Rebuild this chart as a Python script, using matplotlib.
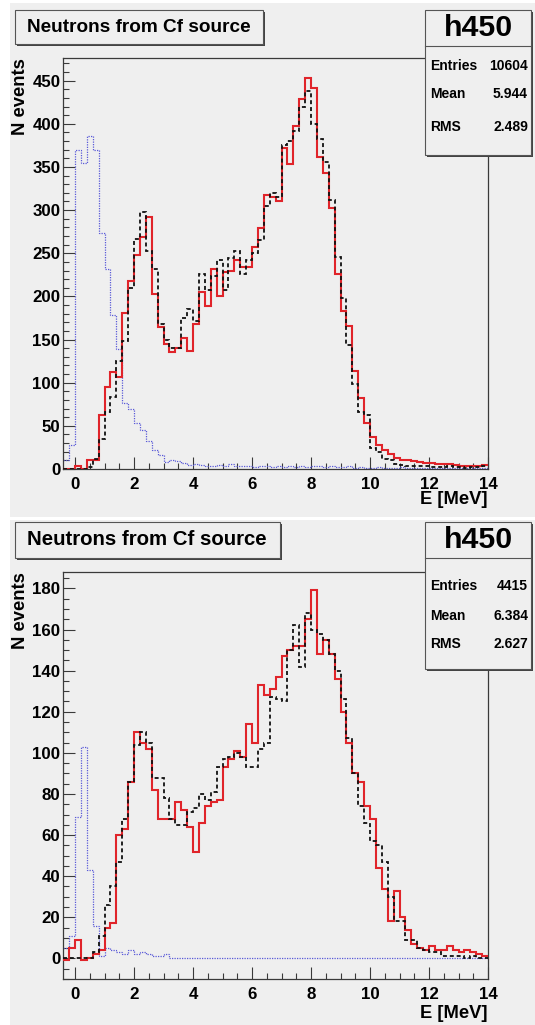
import numpy as np
import matplotlib
matplotlib.use('Agg')
import matplotlib.pyplot as plt
from matplotlib.patches import Rectangle
from matplotlib.ticker import MultipleLocator

plt.rcParams['font.family'] = ['Liberation Sans', 'DejaVu Sans']
plt.rcParams['font.weight'] = 'bold'

# energy binning, 0.2 MeV bins from -0.4 to 14 MeV
e_lo, e_hi, e_step = -0.4, 14.0, 0.2
edges = np.round(np.arange(e_lo, e_hi + e_step / 2, e_step), 2)

# --- first run (10604 entries) ---
data_top = [0, 0, 4, 0, 10, 10, 62, 95, 112, 107, 181, 218, 248, 269, 292, 203,
            165, 145, 135, 140, 152, 137, 168, 205, 189, 232, 201, 228, 230, 242,
            234, 234, 257, 279, 318, 315, 310, 372, 353, 397, 429, 453, 441, 362,
            343, 302, 226, 183, 166, 113, 82, 53, 37, 28, 22, 17, 13, 10, 10, 9,
            8, 7, 7, 6, 6, 6, 5, 4, 3, 4, 3, 5]
sim_top = [0, 0, 0, 0, 2, 12, 35, 66, 84, 125, 148, 210, 267, 298, 253, 232,
           168, 150, 140, 140, 175, 185, 172, 226, 207, 224, 242, 207, 244, 253,
           226, 242, 250, 265, 305, 320, 315, 375, 380, 392, 420, 438, 400, 382,
           356, 312, 246, 198, 144, 98, 66, 63, 24, 20, 12, 10, 6, 5, 4, 3,
           3, 3, 2, 2, 2, 3, 2, 2, 1, 2, 2, 3]
gamma_top = [10, 28, 370, 355, 386, 370, 273, 232, 179, 139, 76, 69, 53, 45, 33, 22,
             16, 8, 10, 9, 7, 5, 6, 5, 4, 4, 5, 4, 6, 3,
             4, 3, 2, 3, 3, 2, 3, 2, 4, 2, 3, 2, 4, 3,
             2, 3, 2, 2, 3, 1, 2, 1, 1, 2, 1, 1, 1, 2, 1, 1,
             1, 1, 1, 1, 1, 1, 1, 1, 1, 1, 1, 1]
stats_top = ['10604', '5.944', '2.489']

# --- second run (4415 entries) ---
data_bot = [-1, 5, 9, -1, 0, 2, 4, 15, 17, 60, 63, 86, 110, 105, 102, 82,
            68, 68, 68, 76, 72, 64, 52, 66, 74, 76, 77, 93, 97, 101,
            98, 114, 105, 133, 128, 131, 137, 147, 150, 152, 152, 165, 179, 148,
            155, 148, 136, 120, 105, 90, 86, 74, 68, 44, 34, 18, 33, 20, 14, 7,
            5, 4, 6, 4, 4, 6, 4, 3, 4, 3, 2, 1]
sim_bot = [0, 0, 0, 0, 0, 3, 11, 26, 35, 47, 68, 86, 104, 110, 105, 88,
           88, 78, 68, 65, 65, 71, 73, 80, 77, 81, 93, 97, 98, 100,
           98, 93, 93, 102, 105, 127, 126, 125, 150, 162, 142, 168, 160, 158,
           155, 148, 140, 126, 107, 90, 74, 66, 57, 55, 47, 30, 18, 18, 9, 9,
           5, 4, 3, 3, 1, 1, 1, 1, 0, 1, 0, 0]
gamma_bot = [5, 11, 69, 103, 43, 16, 1, 5, 4, 3, 2, 4, 2, 3, 2, 1,
             1, 2, 0, 0, 0, 0, 0, 0, 0, 0, 0, 0, 0, 0,
             0, 0, 0, 0, 0, 0, 0, 0, 0, 0, 0, 0, 0, 0,
             0, 0, 0, 0, 0, 0, 0, 0, 0, 0, 0, 0, 0, 0, 0, 0,
             0, 0, 0, 0, 0, 0, 0, 0, 0, 0, 0, 0]
stats_bot = ['4415', '6.384', '2.627']

title = 'Neutrons from Cf source'
hist_name = 'h450'
stat_names = ['Entries', 'Mean', 'RMS']

W, H = 535, 1025
pad_grey = '#efefef'
frame_col = '#3a3a3a'

fig = plt.figure(figsize=(W / 100, H / 100), dpi=100)
fig.patch.set_facecolor('white')


def fx(px):
    return px / W


def fy(py):
    return 1 - py / H


def rect(x0, y0, x1, y1, **kw):
    r = Rectangle((fx(x0), fy(y1)), (x1 - x0) / W, (y1 - y0) / H,
                  transform=fig.transFigure, **kw)
    fig.patches.append(r)
    return r


def shadow_box(x0, y0, x1, y1):
    rect(x0 + 2, y0 + 2, x1 + 2, y1 + 2, facecolor='#444444', edgecolor='none', zorder=5)
    rect(x0, y0, x1, y1, facecolor=pad_grey, edgecolor='#555555', lw=0.8, zorder=6)


def panel(ytop, ybot, data, sim, gamma, stats, tbox, tsize, sbox, rows, divider,
          ymajor, yminor, xlab_y, canvas):
    # grey canvas behind the pad
    rect(*canvas, facecolor=pad_grey, edgecolor='none', zorder=-2)

    ax = fig.add_axes([fx(63.3), fy(ybot), (488 - 63.3) / W, (ybot - ytop) / H])
    ax.set_facecolor(pad_grey)
    ax.stairs(data, edges, baseline=None, color='#e0242a', lw=1.5, zorder=3)
    ax.stairs(sim, edges, baseline=None, color='#111111', lw=1.3,
              linestyle=(0, (2.2, 1.6)), zorder=4)
    ax.stairs(gamma, edges, baseline=None, color='#5a5ad8', lw=0.9,
              linestyle=(0, (1, 1)), zorder=2)

    lo, hi = min(data), max(data)
    if lo >= 0:
        ax.set_ylim(0, hi * 1.05)
    else:
        ax.set_ylim(lo - 0.05 * (hi - lo), hi + 0.05 * (hi - lo))
    ax.set_xlim(e_lo, e_hi)

    ax.xaxis.set_major_locator(MultipleLocator(2))
    ax.xaxis.set_minor_locator(MultipleLocator(0.5))
    ax.yaxis.set_major_locator(MultipleLocator(ymajor))
    ax.yaxis.set_minor_locator(MultipleLocator(yminor))
    ax.tick_params(which='both', direction='in', color=frame_col, width=0.8,
                   top=False, right=False)
    ax.tick_params(which='major', length=8.4, labelsize=12.2)
    ax.tick_params(which='minor', length=4.1)
    ax.tick_params(axis='x', pad=5.5)
    ax.tick_params(axis='y', pad=2)
    for lab in ax.get_xticklabels() + ax.get_yticklabels():
        lab.set_fontweight('bold')
    for sp in ax.spines.values():
        sp.set_color(frame_col)
        sp.set_linewidth(0.9)

    fig.text(fx(20.5), fy(ytop), 'N events', rotation=90, ha='center', va='top',
             fontsize=13.2, fontweight='bold')
    fig.text(fx(488), fy(xlab_y), 'E [MeV]', ha='right', va='center',
             fontsize=13.2, fontweight='bold')

    # title box
    shadow_box(*tbox)
    fig.text(fx(tbox[0] + 12), fy((tbox[1] + tbox[3]) / 2), title, ha='left',
             va='center', fontsize=tsize, fontweight='bold', zorder=7)

    # statistics box
    shadow_box(*sbox)
    fig.lines.append(plt.Line2D([fx(sbox[0]), fx(sbox[2])], [fy(divider), fy(divider)],
                                transform=fig.transFigure, color='#555555', lw=0.8,
                                zorder=7))
    fig.text(fx((sbox[0] + sbox[2]) / 2), fy((sbox[1] + divider) / 2), hist_name,
             ha='center', va='center', fontsize=21.8, fontweight='bold', zorder=7)
    for name, val, ry in zip(stat_names, stats, rows):
        fig.text(fx(sbox[0] + 5), fy(ry), name, ha='left', va='center',
                 fontsize=10, fontweight='bold', zorder=7)
        fig.text(fx(sbox[2] - 3), fy(ry), val, ha='right', va='center',
                 fontsize=10, fontweight='bold', zorder=7)
    return ax


panel(58.5, 469, data_top, sim_top, gamma_top, stats_top,
      (15.4, 9.6, 262.7, 44.4), 13.7, (425, 9.6, 531, 155), (66, 94, 127), 46,
      50, 10, 500, (10, 3, 535, 516.5))
panel(572, 979, data_bot, sim_bot, gamma_bot, stats_bot,
      (15.4, 521.7, 279.8, 558.2), 14.7, (425, 521.7, 531, 669), (586.5, 615.5, 644.5),
      557.5, 20, 5, 1014, (10, 520, 535, 1025))

fig.savefig('out.png', dpi=100, facecolor=fig.get_facecolor())
